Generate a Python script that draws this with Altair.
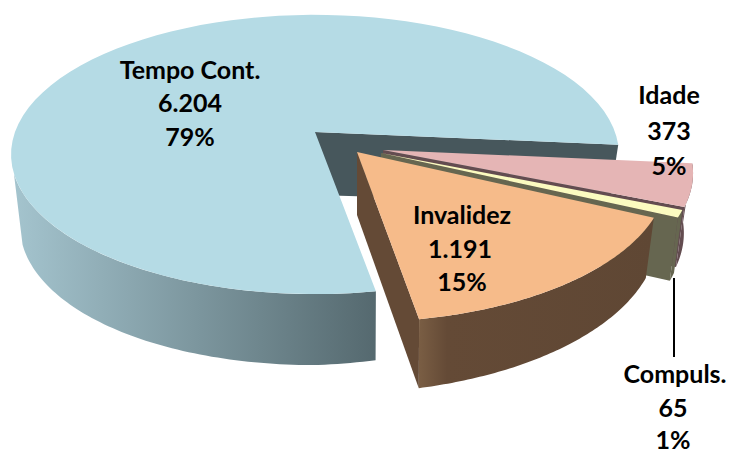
import math
import altair as alt
import pandas as pd

categories = ["Idade", "Compuls.", "Invalidez", "Tempo Cont."]
values = [373, 65, 1191, 6204]
value_labels = ["373", "65", "1.191", "6.204"]
pct_labels = ["5%", "1%", "15%", "79%"]

W, H = 718, 447
START = 5.3
P, RX, RY = 0.161, 300.0, 136.0

# offset of each slice from the chart's corner, and its size factors
geom = {
    "Tempo Cont.": dict(ox=315, oy=132, sx=1.0, sy=1.0, dz=0),
    "Idade": dict(ox=383, oy=150, sx=1.02, sy=1.03, dz=0),
    "Compuls.": dict(ox=381, oy=153, sx=1.02, sy=1.03, dz=3),
    "Invalidez": dict(ox=357, oy=152, sx=1.02, sy=1.05, dz=0),
}
top_color = {"Tempo Cont.": "#b5dbe5", "Idade": "#e5b5b5", "Compuls.": "#fbfbc0", "Invalidez": "#f6bb8a"}
cut_color = {"Tempo Cont.": "#47575c", "Idade": "#634c50", "Compuls.": "#666650", "Invalidez": "#644a36"}

def grad(c1, c2, c3=None):
    stops = [alt.GradientStop(color=c1, offset=0)]
    if c3:
        stops.append(alt.GradientStop(color=c2, offset=0.12))
        stops.append(alt.GradientStop(color=c3, offset=1))
    else:
        stops.append(alt.GradientStop(color=c2, offset=1))
    return alt.Gradient(gradient="linear", stops=stops, x1=0, x2=1, y1=0, y2=0)

wall_fill = {
    "Tempo Cont.": grad("#a4c4ce", "#55696f"),
    "Idade": "#634c50",
    "Compuls.": "#666650",
    "Invalidez": grad("#7a5e44", "#644a36", "#5f4734"),
}

total = sum(values)
spans = {}
a = START
for c, v in zip(categories, values):
    spans[c] = (a, a + v / total * 360)
    a = spans[c][1]

def pt(c, deg, bottom=False):
    g = geom[c]
    t = math.radians(deg)
    u, v = math.cos(t), math.sin(t)
    w = 1 - P * v
    X = RX * u / w * g["sx"]
    Y = RY * v / w * g["sy"]
    if bottom:
        return [g["ox"] + X * (1 - 0.03 * abs(u)), g["oy"] + Y + 71 - 12 * max(u, 0) + g["dz"]]
    return [g["ox"] + X, g["oy"] + Y]

def rim(c, a0, a1, bottom=False, n=80):
    return [pt(c, a0 + (a1 - a0) * i / n, bottom) for i in range(n + 1)]

def shape(ring, fill):
    ring = ring + [ring[0]]
    feat = {"type": "Feature", "properties": {}, "geometry": {"type": "Polygon", "coordinates": [ring]}}
    return alt.Chart(alt.Data(values=[feat])).mark_geoshape(fill=fill, stroke=None, strokeWidth=0).project(
        type="identity", scale=1, translate=[-8, -8]
    )

def apex(c, bottom=False):
    g = geom[c]
    return [g["ox"], g["oy"] + (63 if bottom else 0)]

def top_face(c):
    a0, a1 = spans[c]
    return shape([apex(c)] + rim(c, a0, a1), top_color[c])

def outer_wall(c, a0, a1):
    return shape(rim(c, a0, a1) + rim(c, a1, a0, True), wall_fill[c])

def cut_wall(c, deg):
    return shape([apex(c), pt(c, deg), pt(c, deg, True), apex(c, True)], cut_color[c])

layers = []
c = "Tempo Cont."
layers += [outer_wall(c, spans[c][0], 163), cut_wall(c, spans[c][1]), top_face(c)]
c = "Idade"
layers += [outer_wall(c, *spans[c]), cut_wall(c, spans[c][1]), top_face(c)]
c = "Compuls."
layers += [outer_wall(c, *spans[c]), cut_wall(c, spans[c][1]), top_face(c)]
c = "Invalidez"
layers += [outer_wall(c, *spans[c]), cut_wall(c, spans[c][1]), top_face(c)]

xs = alt.Scale(domain=[8, 8 + W], range=[0, W])
ys = alt.Scale(domain=[8, 8 + H], range=[0, H])

label_x = {"Tempo Cont.": [190, 190, 190], "Invalidez": [462, 460, 462], "Idade": [669, 669, 669], "Compuls.": [675, 673, 673]}
label_y = {"Tempo Cont.": [71, 104, 138], "Invalidez": [216, 250, 283], "Idade": [96, 132, 167], "Compuls.": [375, 409, 441]}
rows = []
for c, vl, pl in zip(categories, value_labels, pct_labels):
    for line, xx, yy in zip([c, vl, pl], label_x[c], label_y[c]):
        rows.append({"x": xx, "y": yy, "t": line})
text = alt.Chart(pd.DataFrame(rows)).mark_text(
    font="Lato", fontWeight="bold", fontSize=25, color="#000000", align="center", baseline="middle"
).encode(
    x=alt.X("x:Q", scale=xs, axis=None),
    y=alt.Y("y:Q", scale=ys, axis=None),
    text="t:N",
)

leader = alt.Chart(pd.DataFrame([{"x": 674, "y": 278, "y2": 357}])).mark_rule(color="#000000", strokeWidth=2).encode(
    x=alt.X("x:Q", scale=xs, axis=None),
    y=alt.Y("y:Q", scale=ys, axis=None),
    y2="y2:Q",
)

chart = alt.layer(*layers, leader, text).properties(
    width=W, height=H, padding=0, autosize=alt.AutoSizeParams(type="none"), background="#ffffff"
).configure_view(stroke=None)

chart.save("out.html", embed_options={"renderer": "svg", "actions": False})
